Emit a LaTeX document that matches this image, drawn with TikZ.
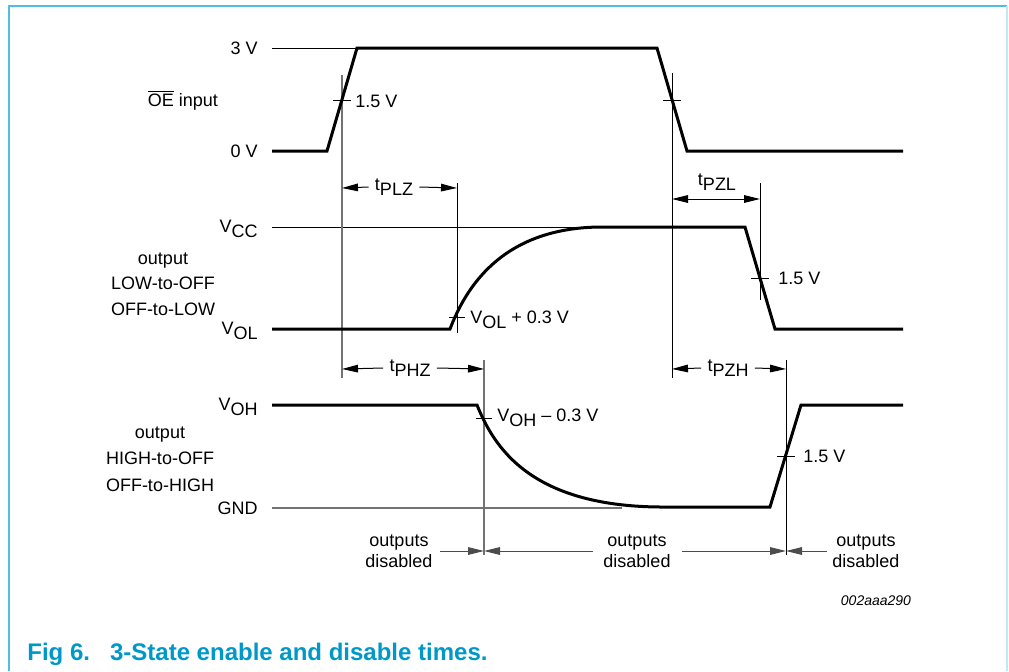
\documentclass[tikz,border=0pt]{standalone}
\usepackage{fontspec}
\setmainfont{Liberation Sans}
\usetikzlibrary{arrows.meta,positioning}
\definecolor{nxpblue}{RGB}{0,152,200}
\definecolor{framecyan}{RGB}{80,190,225}
\newcommand{\lo}[1]{\raisebox{-0.5ex}{#1}}
\tikzset{
  >={Triangle[length=8pt,width=3.8pt]},
  signal/.style={line width=1.5pt, line join=miter},
  guide/.style={line width=0.5pt},
  greyguide/.style={line width=0.6pt, black!55},
  lbl/.style={font=\fontsize{9}{10.5}\selectfont, inner sep=0pt},
  dimarrow/.style={line width=0.5pt, ->},
}
\begin{document}
\begin{tikzpicture}[x=0.5pt,y=-0.5pt]
  \useasboundingbox (0,0) rectangle (1009,671);
  % Bingkai gambar
  \draw[framecyan, line width=1pt] (9,671) -- (9,6) -- (1007,6);
  \draw[framecyan!35, line width=1pt] (1007,6) -- (1007,671);

  % Titik sudut sinyal OE input
  \coordinate (A0) at (272,151);
  \coordinate (A1) at (327,151);
  \coordinate (A2) at (357,48);
  \coordinate (A3) at (657,48);
  \coordinate (A4) at (687,151);
  \coordinate (A5) at (903,151);
  % Titik sudut sinyal output LOW
  \coordinate (B0) at (272,329);
  \coordinate (B1) at (450,329);
  \coordinate (B2) at (600,227);
  \coordinate (B3) at (745,227);
  \coordinate (B4) at (775,329);
  \coordinate (B5) at (903,329);
  % Titik sudut sinyal output HIGH
  \coordinate (C0) at (272,405);
  \coordinate (C1) at (477,405);
  \coordinate (C2) at (660,507);
  \coordinate (C3) at (770,507);
  \coordinate (C4) at (801,405);
  \coordinate (C5) at (903,405);

  % Titik ukur (perpotongan)
  \coordinate (P1) at (342,100);
  \coordinate (P2) at (672,100);
  \coordinate (P3) at (457,317);
  \coordinate (P4) at (760,278);
  \coordinate (P5) at (484,418);
  \coordinate (P6) at (786,456);

  % Garis acuan tipis
  \draw[guide] (272,48) -- (A2);
  \draw[guide] (272,227) -- (590,227);
  \draw[greyguide] (272,508) -- (622,508);

  % Garis vertikal waktu
  \draw[greyguide] (342,75) -- (342,378);
  \draw[guide] (457,183) -- (457,333);
  \draw[guide] (672,73) -- (672,378);
  \draw[guide] (760,183) -- (760,300);
  \draw[greyguide] (484,360) -- (484,555);
  \draw[guide] (786,360) -- (786,555);

  % Sinyal
  \draw[signal] (A0) -- (A1) -- (A2) -- (A3) -- (A4) -- (A5);
  \draw[signal] (B0) -- (B1) .. controls (465,290) and (500,228) .. (B2) -- (B3) -- (B4) -- (B5);
  \draw[signal] (C0) -- (C1) .. controls (494,447) and (530,506) .. (C2) -- (C3) -- (C4) -- (C5);

  % Tanda silang kecil
  \foreach \p/\w in {P1/9,P2/9,P3/8,P4/9,P5/8,P6/9}{
      \draw[guide] ([xshift=-\w*0.5pt]\p) -- ([xshift=\w*0.5pt]\p);
    }

  % Label level
  \node[lbl, anchor=east] (l3v) at (258,48) {3 V};
  \node[lbl, anchor=east] (l0v) at (258,151) {0 V};
  \node[lbl] (loe) at (183,100) {$\overline{\mbox{OE}}$ input};
  \node[lbl, anchor=east] (lvcc) at (258,229) {V\lo{CC}};
  \node[lbl, anchor=east] (lvol) at (258,331) {V\lo{OL}};
  \node[lbl, anchor=east] (lvoh) at (258,407) {V\lo{OH}};
  \node[lbl, anchor=east] (lgnd) at (258,508) {GND};
  \node[lbl, align=center, font=\fontsize{9}{12.75}\selectfont] (llow) at (163,284) {output\\LOW-to-OFF\\OFF-to-LOW};
  \node[lbl, align=center, font=\fontsize{9}{13.25}\selectfont] (lhigh) at (160,459) {output\\HIGH-to-OFF\\OFF-to-HIGH};

  % Label tegangan ukur
  \node[lbl, anchor=west] (m1) at (355,101) {1.5 V};
  \node[lbl, anchor=west] (m2) at (470,320) {V\lo{OL} + 0.3 V};
  \node[lbl, anchor=west] (m3) at (778,278) {1.5 V};
  \node[lbl, anchor=west] (m4) at (497,418) {V\lo{OH} -- 0.3 V};
  \node[lbl, anchor=west] (m5) at (803,456) {1.5 V};

  % Waktu tunda
  \node[lbl, inner xsep=3pt] (tplz) at (394,187) {t\lo{PLZ}};
  \draw[dimarrow] (tplz.west) -- (342,188);
  \draw[dimarrow] (tplz.east) -- (457,188);
  \node[lbl] (tpzl) at (717,182) {t\lo{PZL}};
  \draw[line width=0.5pt, <->] (672,199) -- (760,199);
  \node[lbl, inner xsep=3pt] (tphz) at (410,368) {t\lo{PHZ}};
  \draw[dimarrow] (tphz.west) -- (342,369);
  \draw[dimarrow] (tphz.east) -- (484,369);
  \node[lbl, inner xsep=3pt] (tpzh) at (728,368) {t\lo{PZH}};
  \draw[dimarrow] (tpzh.west) -- (672,369);
  \draw[dimarrow] (tpzh.east) -- (786,369);

  % Keterangan outputs disabled
  \node[lbl, align=center] (od1) at (399,551) {outputs\\disabled};
  \node[lbl, align=center] (od2) at (637,551) {outputs\\disabled};
  \node[lbl, align=center] (od3) at (866,551) {outputs\\disabled};
  \draw[dimarrow, black!70] (440,551) -- (484,551);
  \draw[dimarrow, black!70] (593,551) -- (484,551);
  \draw[dimarrow, black!70] (682,551) -- (786,551);
  \draw[dimarrow, black!70] (827,551) -- (786,551);

  % Kode gambar dan judul
  \node[lbl, font=\fontsize{7}{8}\selectfont\itshape] (code) at (876,601) {002aaa290};
  \node[anchor=base west, inner sep=0pt, text=nxpblue, font=\fontsize{12}{14}\selectfont\bfseries] (caption) at (27,660)
    {Fig 6.\hspace{10pt}3-State enable and disable times.};
\end{tikzpicture}
\end{document}
